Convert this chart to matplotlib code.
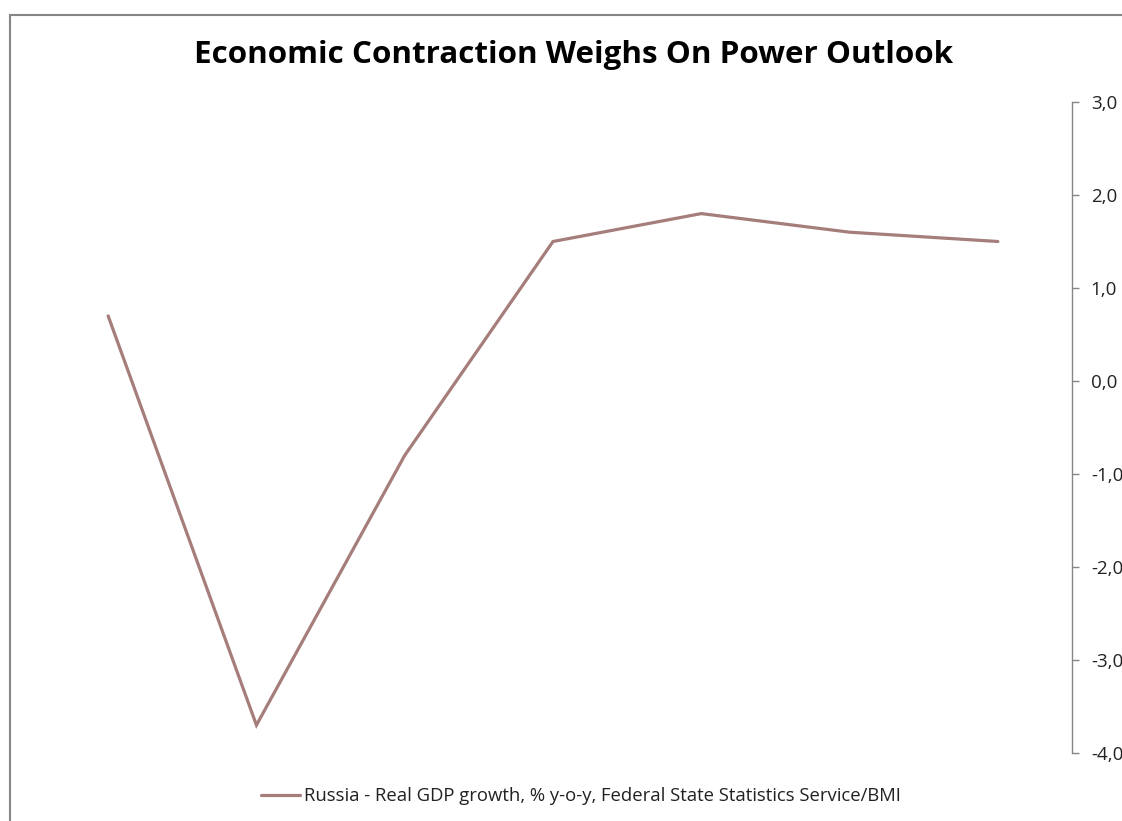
import matplotlib
matplotlib.use("Agg")
import matplotlib.pyplot as plt
from matplotlib.patches import Rectangle
from matplotlib.ticker import FuncFormatter

categories = ["P1", "P2", "P3", "P4", "P5", "P6", "P7"]
gdp_growth = [0.7, -3.7, -0.8, 1.5, 1.8, 1.6, 1.5]
yticks = [-4, -3, -2, -1, 0, 1, 2, 3]
title = "Economic Contraction Weighs On Power Outlook"
series_label = "Russia - Real GDP growth, % y-o-y, Federal State Statistics Service/BMI"

plt.rcParams['font.family'] = ['Open Sans', 'DejaVu Sans']

W, H = 1122, 821
fig = plt.figure(figsize=(W / 100, H / 100), dpi=100)

# outer border
fig.patches.append(Rectangle((10 / W, -0.1), 1.2, 1 - 15 / H + 0.1, transform=fig.transFigure,
                             fill=False, edgecolor='#868686', linewidth=1.5))

ax = fig.add_axes([34 / W, (H - 753) / H, (1072 - 34) / W, (753 - 102) / H])
x = list(range(len(categories)))
line, = ax.plot(x, gdp_growth, color='#A57D7B', linewidth=2.3, solid_capstyle='round',
                solid_joinstyle='miter', label=series_label)

ax.set_xlim(-0.5, len(categories) - 0.5)
ax.set_ylim(-4, 3)
ax.set_xticks([])
ax.yaxis.tick_right()
ax.set_yticks(yticks)
ax.yaxis.set_major_formatter(FuncFormatter(lambda v, p: f"{v:.1f}".replace('.', ',')))
ax.tick_params(axis='y', direction='out', length=5, width=1, color='#868686',
               pad=8.5, labelsize=13.5, labelcolor='#222222')
for s in ['left', 'top', 'bottom']:
    ax.spines[s].set_visible(False)
ax.spines['right'].set_color('#868686')
ax.spines['right'].set_linewidth(1)
ax.patch.set_alpha(0)

fig.text(574 / W, 1 - 55 / H, title, ha='center', va='center', fontsize=22.6,
         fontweight='bold', color='black')

fig.legend(handles=[line], loc='center', bbox_to_anchor=(581 / W, 1 - 796 / H),
           frameon=False, fontsize=13.3, handlelength=2.15, handletextpad=0.22,
           labelcolor='#222222')

fig.savefig('out.png', dpi=100)
